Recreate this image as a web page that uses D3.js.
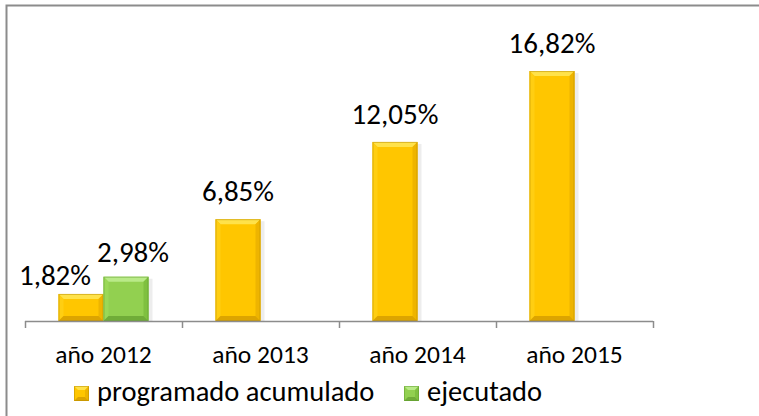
<!DOCTYPE html>
<html>
<head>
<meta charset="utf-8">
<script src="https://cdn.jsdelivr.net/npm/d3@7"></script>
<style>
  body { margin: 0; background: #fff; }
  svg { display: block; font-family: Carlito, Calibri, Lato, sans-serif; }
</style>
</head>
<body>
<div id="chart"></div>
<script>
var years = ["año 2012", "año 2013", "año 2014", "año 2015"];
var series = ["programado", "ejecutado"];
var seriesNames = ["programado acumulado", "ejecutado"];
var programado = [1.82, 6.85, 12.05, 16.82];
var ejecutado = [2.98, null, null, null];

var width = 759,
    height = 416;

var palette = {
  programado: { main: "#ffc600", top: "#ffe24a", left: "#ffce12", right: "#eeb400", bottom: "#dca400", edge: "#b88c00" },
  ejecutado:  { main: "#92d050", top: "#b9ea88", left: "#9ad858", right: "#7fc040", bottom: "#70ac38", edge: "#5e9a2c" }
};

var svg = d3.select("#chart").append("svg")
    .attr("width", width)
    .attr("height", height);

// frame (chart area is cropped on the right and bottom)
svg.append("rect")
    .attr("x", 6.5).attr("y", 5.5)
    .attr("width", 800).attr("height", 500)
    .attr("fill", "none")
    .attr("stroke", "#8c8c8c")
    .attr("stroke-width", 2);

var x0 = d3.scaleBand().domain(years).range([25, 653]);
var x1 = d3.scaleBand().domain(series).range([-45, 45]);
var y = d3.scaleLinear().domain([0, 18]).range([321, 53.5]);

var rows = [];
years.forEach(function(yr, i) {
  rows.push({ year: yr, key: "programado", value: programado[i] });
  if (ejecutado[i] != null) rows.push({ year: yr, key: "ejecutado", value: ejecutado[i] });
});

// label nudges where the two 2012 labels would collide
var nudge = { "año 2012|programado": [-26, 9], "año 2012|ejecutado": [7, 3] };

var bars = svg.append("g").selectAll("g")
    .data(rows)
  .enter().append("g");

var bev = 5;

bars.each(function(d) {
  var g = d3.select(this),
      c = palette[d.key],
      xl = x0(d.year) + x0.bandwidth() / 2 + x1(d.key),
      xr = xl + x1.bandwidth(),
      yt = y(d.value),
      yb = y(0);

  // soft shadow
  g.append("rect")
      .attr("x", xl + 2).attr("y", yt + 2)
      .attr("width", xr - xl + 2).attr("height", yb - yt - 2)
      .attr("fill", "#000").attr("opacity", 0.07);

  g.append("rect")
      .attr("x", xl).attr("y", yt)
      .attr("width", xr - xl).attr("height", yb - yt)
      .attr("fill", c.main);

  var b = Math.min(bev, (yb - yt) / 2);
  var poly = function(pts, fill) {
    g.append("polygon")
        .attr("points", pts.map(function(p) { return p.join(","); }).join(" "))
        .attr("fill", fill);
  };
  poly([[xl, yt], [xr, yt], [xr - b, yt + b], [xl + b, yt + b]], c.top);
  poly([[xl, yt], [xl + b, yt + b], [xl + b, yb - b], [xl, yb]], c.left);
  poly([[xr, yt], [xr, yb], [xr - b, yb - b], [xr - b, yt + b]], c.right);
  poly([[xl, yb], [xl + b, yb - b], [xr - b, yb - b], [xr, yb]], c.bottom);

  g.append("rect")
      .attr("x", xl + 0.5).attr("y", yt + 0.5)
      .attr("width", xr - xl - 1).attr("height", yb - yt - 1)
      .attr("fill", "none").attr("stroke", c.edge).attr("stroke-width", 1).attr("opacity", 0.5);

  var n = nudge[d.year + "|" + d.key] || [0, 0];
  g.append("text")
      .attr("x", (xl + xr) / 2 + n[0])
      .attr("y", yt - 18 + n[1])
      .attr("text-anchor", "middle")
      .attr("font-size", 29)
      .attr("fill", "#000")
      .text(d3.format(".2f")(d.value).replace(".", ",") + "%");
});

// category axis
var axis = svg.append("g").attr("transform", "translate(0,321)")
    .call(d3.axisBottom(x0).tickSize(0).tickPadding(0));
axis.select(".domain").remove();
axis.selectAll("text")
    .attr("y", 42).attr("dy", 0)
    .attr("font-size", 25.5)
    .attr("font-family", "Carlito, Calibri, Lato, sans-serif")
    .attr("fill", "#000");

var edges = x0.domain().map(function(d) { return x0(d); }).concat([x0.range()[1]]);
svg.append("line")
    .attr("x1", x0.range()[0]).attr("x2", x0.range()[1])
    .attr("y1", 321.5).attr("y2", 321.5)
    .attr("stroke", "#8c8c8c").attr("stroke-width", 1.5);
svg.append("g").selectAll("line")
    .data(edges)
  .enter().append("line")
    .attr("x1", function(d) { return d + 0.5; })
    .attr("x2", function(d) { return d + 0.5; })
    .attr("y1", 321).attr("y2", 328)
    .attr("stroke", "#8c8c8c").attr("stroke-width", 1.5);

// legend
var legendX = [74, 404];
var legend = svg.append("g").selectAll("g")
    .data(series)
  .enter().append("g")
    .attr("transform", function(d, i) { return "translate(" + legendX[i] + ",386)"; });

legend.each(function(d, i) {
  var g = d3.select(this), c = palette[d], s = 15, b = 4;
  g.append("rect").attr("width", s).attr("height", s).attr("fill", c.main);
  var poly = function(pts, fill) {
    g.append("polygon")
        .attr("points", pts.map(function(p) { return p.join(","); }).join(" "))
        .attr("fill", fill);
  };
  poly([[0, 0], [s, 0], [s - b, b], [b, b]], c.top);
  poly([[s, 0], [s, s], [s - b, s - b], [s - b, b]], c.right);
  poly([[0, s], [b, s - b], [s - b, s - b], [s, s]], c.bottom);
  g.append("rect").attr("x", 0.5).attr("y", 0.5).attr("width", s - 1).attr("height", s - 1)
      .attr("fill", "none").attr("stroke", c.edge).attr("opacity", 0.5);
  g.append("text")
      .attr("x", 23).attr("y", 15)
      .attr("font-size", 28.5)
      .attr("fill", "#000")
      .text(seriesNames[i]);
});
</script>
</body>
</html>
